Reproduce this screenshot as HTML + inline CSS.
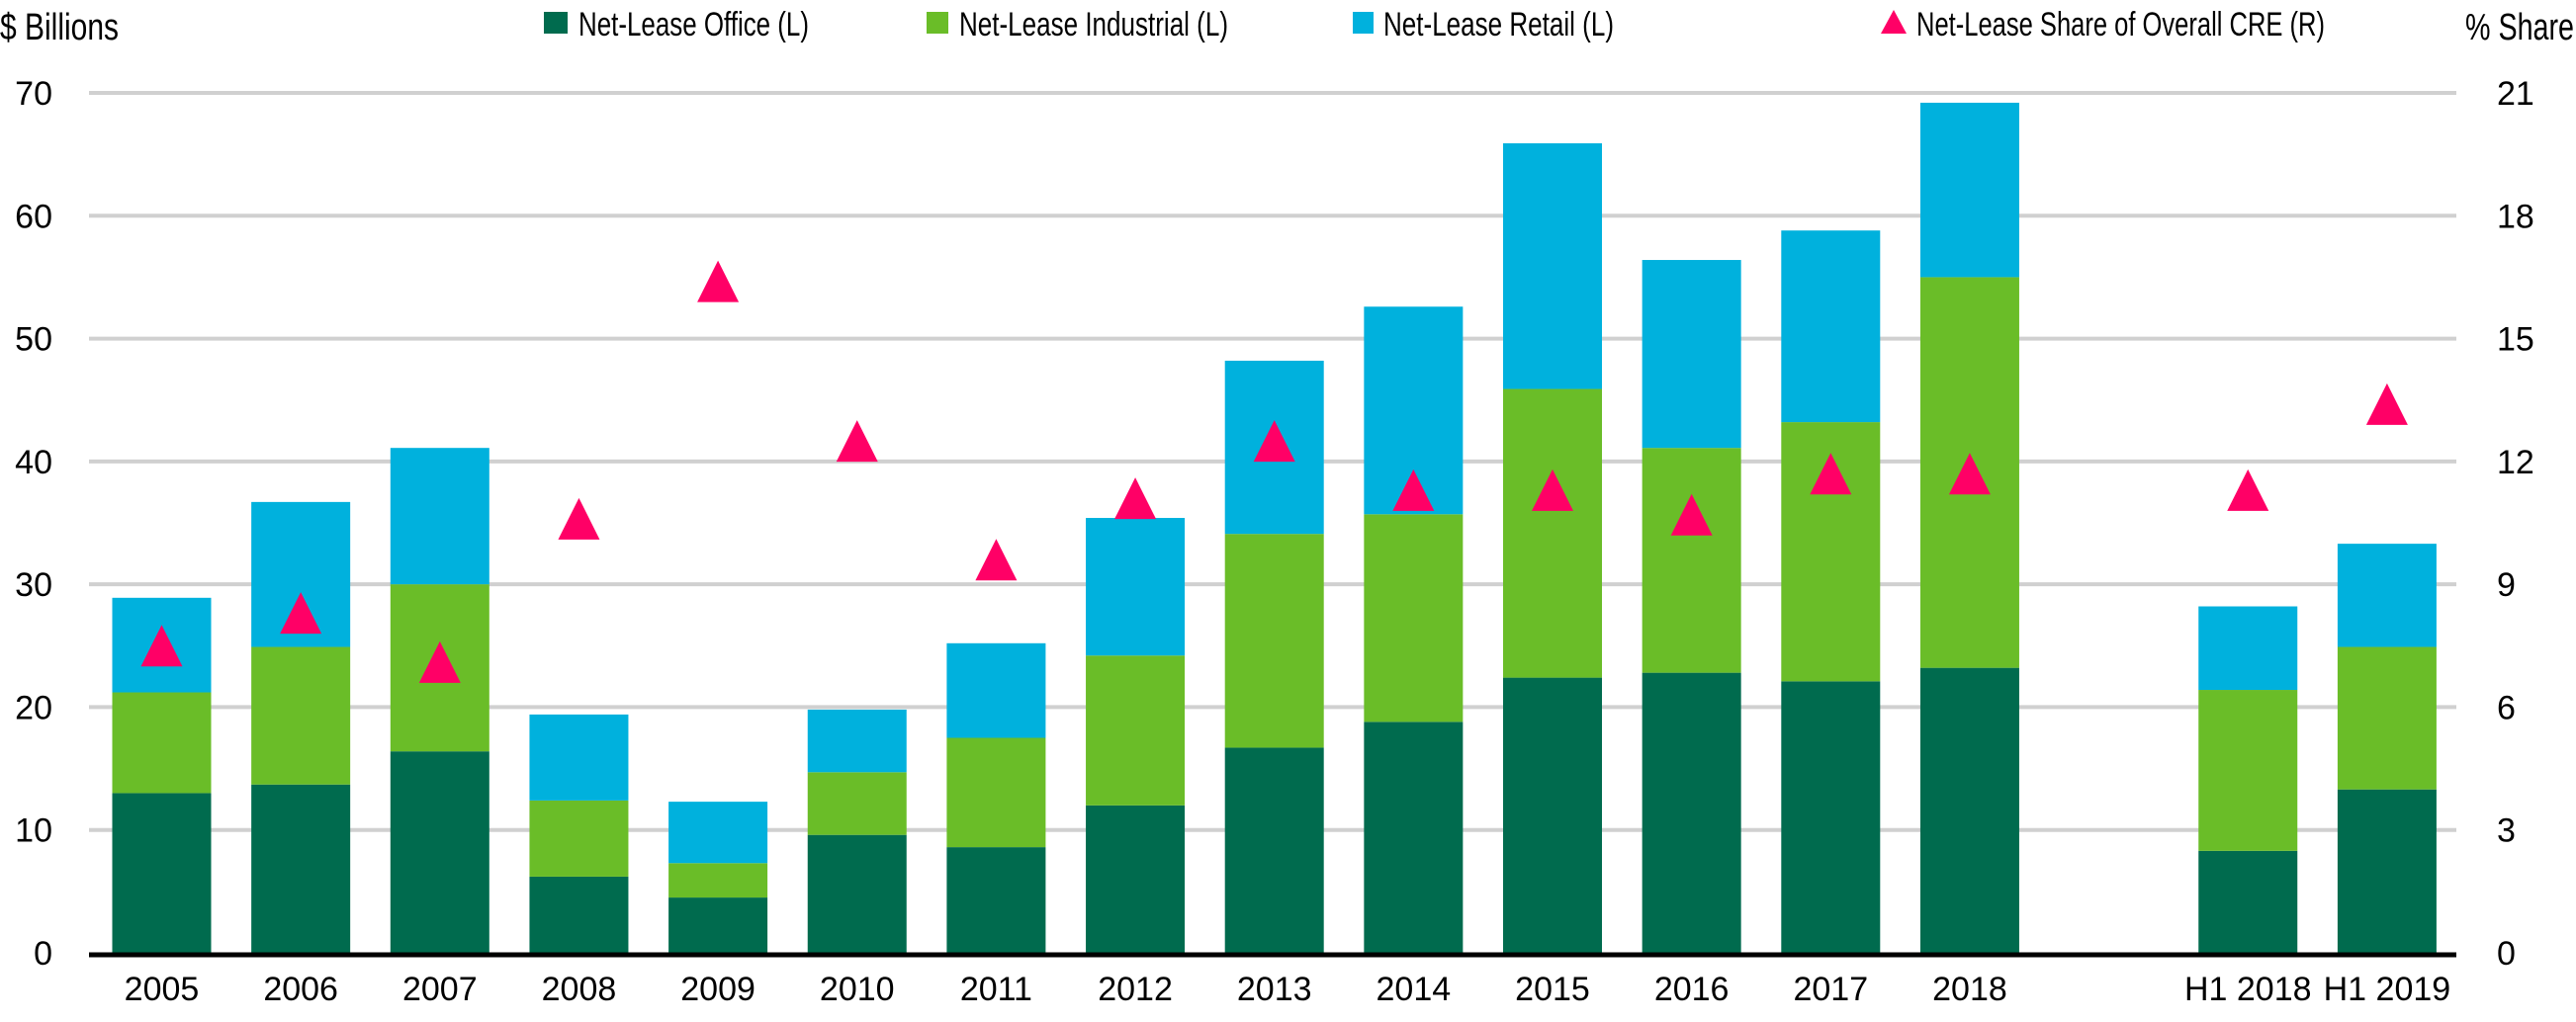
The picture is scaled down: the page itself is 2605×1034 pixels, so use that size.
<!DOCTYPE html>
<html><head><meta charset="utf-8"><style>
html,body{margin:0;padding:0;background:#fff;}
svg{display:block;font-family:"Liberation Sans Narrow","Liberation Sans",sans-serif;}
</style></head><body>
<svg id="chart" width="2605" height="1034" viewBox="0 0 2605 1034" xmlns="http://www.w3.org/2000/svg">
<g id="grid"></g>
<g id="bars"></g>
<g id="marks"></g>
<g id="axes"></g>
<text x="0" y="40" font-size="38" textLength="120" lengthAdjust="spacingAndGlyphs">$ Billions</text>
<text x="2493" y="40" font-size="38" textLength="110" lengthAdjust="spacingAndGlyphs">% Share</text>
<g>
<rect x="550" y="12" width="24" height="22" fill="#006B4E"/>
<text x="585" y="36" font-size="34" textLength="233" lengthAdjust="spacingAndGlyphs">Net-Lease Office (L)</text>
<rect x="937" y="12" width="22" height="22" fill="#6ABD28"/>
<text x="970" y="36" font-size="34" textLength="272" lengthAdjust="spacingAndGlyphs">Net-Lease Industrial (L)</text>
<rect x="1368" y="12" width="21" height="22" fill="#00B1DD"/>
<text x="1399" y="36" font-size="34" textLength="233" lengthAdjust="spacingAndGlyphs">Net-Lease Retail (L)</text>
<polygon points="1915,10 1928,34 1902,34" fill="#FF0066"/>
<text x="1938" y="36" font-size="34" textLength="413" lengthAdjust="spacingAndGlyphs">Net-Lease Share of Overall CRE (R)</text>
</g>
</svg>
<script>
const categories = ["2005","2006","2007","2008","2009","2010","2011","2012","2013","2014","2015","2016","2017","2018","","H1 2018","H1 2019"];
const office = [13.0,13.7,16.4,6.2,4.5,9.6,8.6,12.0,16.7,18.8,22.4,22.8,22.1,23.2,null,8.3,13.3];
const industrial = [8.2,11.2,13.6,6.2,2.8,5.1,8.9,12.2,17.4,16.9,23.5,18.3,21.1,31.8,null,13.1,11.6];
const retail = [7.7,11.8,11.1,7.0,5.0,5.1,7.7,11.2,14.1,16.9,20.0,15.3,15.6,14.2,null,6.8,8.4];
const share = [7.5,8.3,7.1,10.6,16.4,12.5,9.6,11.1,12.5,11.3,11.3,10.7,11.7,11.7,null,11.3,13.4];
const leftTicks = [0,10,20,30,40,50,60,70];
const rightTicks = [0,3,6,9,12,15,18,21];

const NS = "http://www.w3.org/2000/svg";
const plotL = 90, plotR = 2484, y0 = 964, yTop = 94;
const leftMax = 70, rightMax = 21;
const band = 140.65, firstC = 163.5, barW = 100;
function xC(i){ return firstC + i*band; }
function yL(v){ return y0 - v/leftMax*(y0-yTop); }
function yR(v){ return y0 - v/rightMax*(y0-yTop); }
function mk(tag, attrs, parent){ const e=document.createElementNS(NS,tag); for(const k in attrs) e.setAttribute(k,attrs[k]); parent.appendChild(e); return e; }

const grid=document.getElementById('grid'), bars=document.getElementById('bars'), marks=document.getElementById('marks'), axes=document.getElementById('axes');
leftTicks.forEach((t,i)=>{
  if(t>0){
    const g = mk('line',{x1:plotL,x2:plotR,y1:yL(t),y2:yL(t),stroke:'#d0d0d0','stroke-width':4},grid);
    
    
  }
  const l = mk('text',{x:53,y:yL(t)+12,'font-size':34,'text-anchor':'end'},axes);
  l.textContent = t;
  
  
});
rightTicks.forEach((t)=>{
  const l = mk('text',{x:2525,y:yR(t)+12,'font-size':34},axes);
  l.textContent = t;
  
  
});
categories.forEach((c,i)=>{
  if(office[i]==null) return;
  const x = xC(i)-barW/2;
  const a=office[i], b=a+industrial[i], t=b+retail[i];
  const r1 = mk('rect',{x:x,y:yL(a),width:barW,height:yL(0)-yL(a),fill:'#006B4E'},bars);
  
  
  const r2 = mk('rect',{x:x,y:yL(b),width:barW,height:yL(a)-yL(b),fill:'#6ABD28'},bars);
  
  
  const r3 = mk('rect',{x:x,y:yL(t),width:barW,height:yL(b)-yL(t),fill:'#00B1DD'},bars);
  
  
  const cy=yR(share[i]), cx=xC(i);
  const p = mk('polygon',{points:`${cx},${cy-21} ${cx+21},${cy+21} ${cx-21},${cy+21}`,fill:'#FF0066'},marks);
  
  
  const l = mk('text',{x:cx,y:1012,'font-size':34,'text-anchor':'middle'},axes);
  l.textContent = c;
  
  
});
const ax = mk('line',{x1:plotL,x2:plotR,y1:y0+2,y2:y0+2,stroke:'#000','stroke-width':5},axes);


</script>
</body></html>
